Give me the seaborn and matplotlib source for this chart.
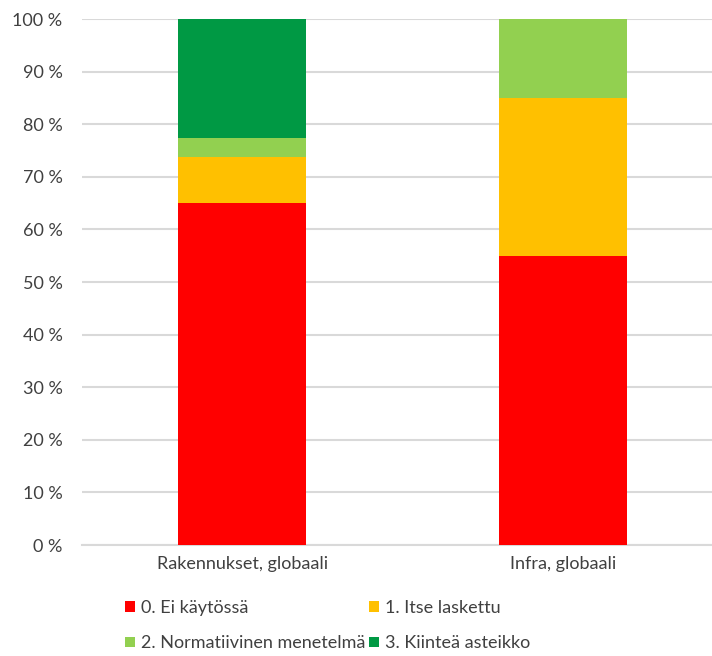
import pandas as pd
import matplotlib.pyplot as plt
import seaborn as sns
from matplotlib.patches import Patch
from matplotlib.ticker import FuncFormatter

sns.set_theme(style="white")
plt.rcParams['font.family'] = ['Lato', 'DejaVu Sans']
plt.rcParams['font.size'] = 13

categories = ["Rakennukset, globaali", "Infra, globaali"]
levels = ["0. Ei käytössä", "1. Itse laskettu",
          "2. Normatiivinen menetelmä", "3. Kiinteä asteikko"]
ei_kaytossa = [65.0, 55.0]
itse_laskettu = [8.8, 30.0]
normatiivinen = [3.5, 15.0]
kiintea = [22.7, 0.0]
colors = ["#FF0000", "#FFC000", "#92D050", "#009944"]

text_col = "#404040"
grid_col = "#D9D9D9"

df = pd.DataFrame({
    "kategoria": categories,
    levels[0]: ei_kaytossa,
    levels[1]: itse_laskettu,
    levels[2]: normatiivinen,
    levels[3]: kiintea,
})
cum = df[levels].cumsum(axis=1)

fig = plt.figure(figsize=(7.12, 6.56), dpi=100)
ax = fig.add_axes([0.1152, 0.1692, 0.8848, 0.8018])

# stacked bars: draw tallest cumulative first, lower layers on top
for lvl, col in reversed(list(zip(levels, colors))):
    sns.barplot(x=df["kategoria"], y=cum[lvl], color=col, width=0.4,
                saturation=1, edgecolor="none", ax=ax, zorder=3)

ax.set_ylim(0, 100)
ax.set_xlim(-0.5, 1.465)
ax.set_yticks(range(0, 101, 10))
ax.yaxis.set_major_formatter(FuncFormatter(lambda v, p: f"{int(v)} %"))
ax.grid(axis="y", color=grid_col, linewidth=1.5, zorder=0)
ax.set_axisbelow(True)
for s in ["left", "right", "top"]:
    ax.spines[s].set_visible(False)
ax.spines["bottom"].set_color(grid_col)
ax.spines["bottom"].set_linewidth(1.5)
ax.tick_params(axis="y", length=0, pad=14, colors=text_col, labelsize=13)
ax.tick_params(axis="x", length=0, pad=8, colors=text_col, labelsize=13)
ax.set_xlabel("")
ax.set_ylabel("")

# matplotlib fills legend columns first, reorder so rows read 0,1 / 2,3
order = [0, 2, 1, 3]
handles = [Patch(facecolor=colors[i], edgecolor="none") for i in order]
labels = [levels[i] for i in order]
leg = fig.legend(handles, labels, ncol=2, loc="upper left",
                 bbox_to_anchor=(0.175, 0.086), frameon=False,
                 handlelength=0.55, handleheight=0.55, handletextpad=0.35,
                 columnspacing=0.2, labelspacing=1.1, fontsize=13,
                 borderaxespad=0, borderpad=0)
for t in leg.get_texts():
    t.set_color(text_col)

fig.savefig("out.png", dpi=100)
